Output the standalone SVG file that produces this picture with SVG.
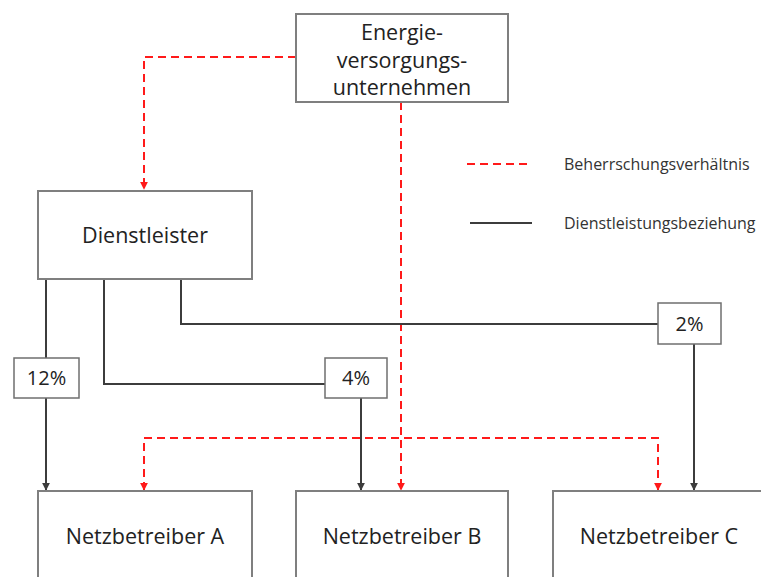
<svg xmlns="http://www.w3.org/2000/svg" width="761" height="577" viewBox="0 0 761 577">
<style>
.box{fill:#fff;stroke:#7f7f7f;stroke-width:2}
.pbox{fill:#fff;stroke:#6f6f6f;stroke-width:1.5}
.t{font-family:"Open Sans","Noto Sans",sans-serif;fill:#222;text-anchor:middle}
.lg{font-family:"Open Sans","Noto Sans",sans-serif;fill:#333;font-size:16px}
.blk{fill:none;stroke:#3c3c3c;stroke-width:2}
.red{fill:none;stroke:#ff1a1a;stroke-width:2;stroke-dasharray:8 5}
</style>
<defs>
<marker id="ab" viewBox="0 0 10 10" refX="9" refY="5" markerWidth="4" markerHeight="4" orient="auto"><path d="M0,0L10,5L0,10z" fill="#3c3c3c"/></marker>
<marker id="ar" viewBox="0 0 10 10" refX="9" refY="5" markerWidth="4" markerHeight="4" orient="auto-start-reverse"><path d="M0,0L10,5L0,10z" fill="#ff1a1a"/></marker>
</defs>
<rect width="761" height="577" fill="#fff"/>
<g id="connectors">
<path class="red" d="M296,57H144V189" marker-end="url(#ar)"/>
<path class="red" d="M401,102V490" marker-end="url(#ar)"/>
<path class="red" d="M144,490V438H658V490" marker-start="url(#ar)" marker-end="url(#ar)"/>
<path class="blk" d="M46,280V358"/>
<path class="blk" d="M46,398V490" marker-end="url(#ab)"/>
<path class="blk" d="M104,280V384H325"/>
<path class="blk" d="M361,398V490" marker-end="url(#ab)"/>
<path class="blk" d="M181,280V324H658"/>
<path class="blk" d="M694,344V490" marker-end="url(#ab)"/>
</g>
<g id="energie"><rect class="box" x="296" y="14" width="212" height="88"/>
<text class="t" font-size="21.5" x="402" y="40">Energie-</text>
<text class="t" font-size="21.5" x="402" y="68">versorgungs-</text>
<text class="t" font-size="21.5" x="402" y="95">unternehmen</text></g>
<g id="dienstleister"><rect class="box" x="38" y="191" width="214" height="88"/>
<text class="t" font-size="21.5" x="145" y="243">Dienstleister</text></g>
<g id="p12"><rect class="pbox" x="14" y="358" width="65" height="40"/><text class="t" font-size="20" x="46.5" y="385">12%</text></g>
<g id="p4"><rect class="pbox" x="325" y="358" width="62" height="40"/><text class="t" font-size="20" x="356" y="385">4%</text></g>
<g id="p2"><rect class="pbox" x="658" y="303" width="63" height="41"/><text class="t" font-size="20" x="689.5" y="331">2%</text></g>
<g id="nba"><rect class="box" x="38" y="491" width="214" height="100"/><text class="t" font-size="21.5" x="145" y="544">Netzbetreiber A</text></g>
<g id="nbb"><rect class="box" x="296" y="491" width="212" height="100"/><text class="t" font-size="21.5" x="402" y="544">Netzbetreiber B</text></g>
<g id="nbc"><rect class="box" x="553" y="491" width="220" height="100"/><text class="t" font-size="21.5" x="659" y="544">Netzbetreiber C</text></g>
<g id="legend">
<path class="red" d="M467,164H531"/>
<text class="lg" x="564" y="170">Beherrschungsverhältnis</text>
<path class="blk" d="M470,223H532"/>
<text class="lg" x="564" y="229">Dienstleistungsbeziehung</text>
</g>
</svg>
